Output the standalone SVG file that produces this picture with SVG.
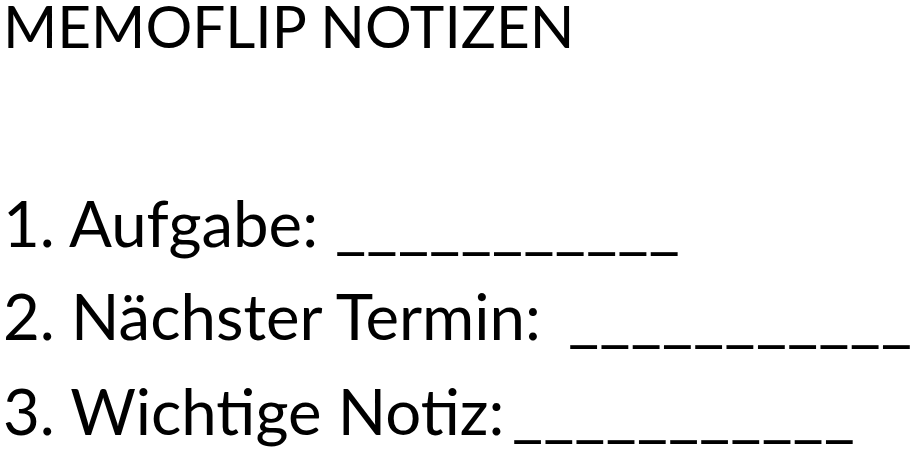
<svg xmlns="http://www.w3.org/2000/svg" width="913" height="451" viewBox="0 0 913 451">
<style>text{font-family:Lato,"Liberation Sans",sans-serif;fill:#000}.t{font-size:58.5px}.l{font-size:63.5px}</style>
<rect width="913" height="451" fill="#fff"/>
<text class="t" x="3" y="48">MEMOFLIP NOTIZEN</text>
<text class="l" x="3" y="247">1. Aufgabe: <tspan x="335" textLength="345" lengthAdjust="spacingAndGlyphs">___________</tspan></text>
<text class="l" x="3" y="340">2. Nächster Termin: <tspan x="568" textLength="344" lengthAdjust="spacingAndGlyphs">___________</tspan></text>
<text class="l" x="3" y="435">3. Wichtige Notiz: <tspan x="512" textLength="343" lengthAdjust="spacingAndGlyphs">___________</tspan></text>
</svg>
